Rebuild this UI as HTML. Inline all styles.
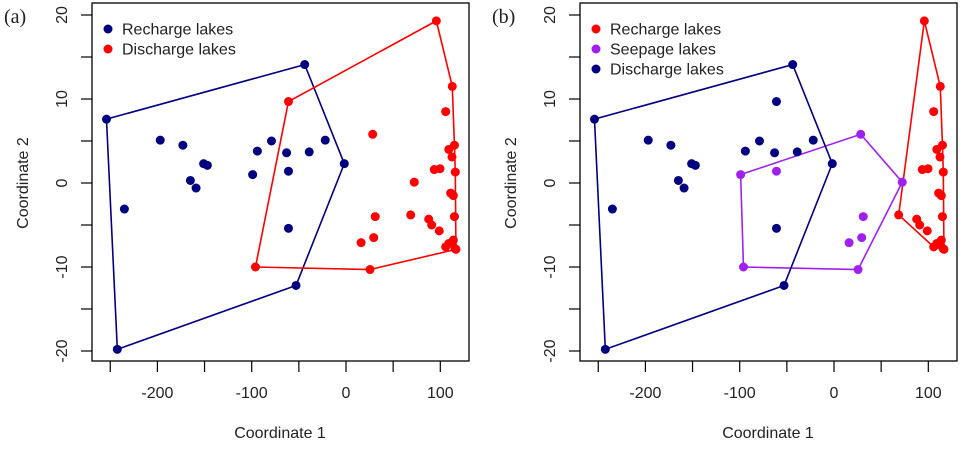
<!DOCTYPE html>
<html><head><meta charset="utf-8"><style>
body{margin:0;background:#fff;}
svg text{font-family:"Liberation Sans",Arial,sans-serif;fill:#222;}
</style></head><body>
<svg id="chart" width="962" height="445" viewBox="0 0 962 445" xmlns="http://www.w3.org/2000/svg"></svg>
<script>
// Panel (a) data
const rechargeAX=[-254,-43.8,-1.8,-53,-242.5,-235,-197,-173,-151,-147,-165,-159,-99,-94,-79,-63,-61,-39,-22,-61];
const rechargeAY=[7.6,14.1,2.3,-12.2,-19.8,-3.1,5.1,4.5,2.3,2.1,0.3,-0.6,1.0,3.8,5.0,3.6,1.4,3.7,5.1,-5.4];
const dischargeAX=[95.8,112.7,105.7,28.3,-61,-96,25.5,115.6,115,109,112.4,93.6,99.7,115.9,72.4,111,113.8,68.6,115,87.7,90.9,98.9,105.7,113.8,116.6,109,31,29.4,16];
const dischargeAY=[19.3,11.5,8.5,5.8,9.7,-10,-10.3,-7.8,4.5,4.0,3.1,1.6,1.7,1.3,0.1,-1.2,-1.5,-3.8,-4.0,-4.3,-5.0,-5.7,-7.6,-6.8,-7.9,-7.2,-4.0,-6.5,-7.1];
// Panel (b) data
const rechargeBX=[112.7,105.7,95.8,115.6,115,109,112.4,93.6,99.7,115.9,111,113.8,68.6,115,87.7,90.9,98.9,105.7,113.8,116.6,109];
const rechargeBY=[11.5,8.5,19.3,-7.8,4.5,4.0,3.1,1.6,1.7,1.3,-1.2,-1.5,-3.8,-4.0,-4.3,-5.0,-5.7,-7.6,-6.8,-7.9,-7.2];
const seepageBX=[-99,-61,-96,25.5,28.3,72.4,31,29.4,16];
const seepageBY=[1.0,1.4,-10,-10.3,5.8,0.1,-4.0,-6.5,-7.1];
const dischargeBX=[-254,-43.8,-1.8,-53,-242.5,-235,-197,-173,-151,-147,-165,-159,-94,-79,-63,-39,-22,-61,-61];
const dischargeBY=[7.6,14.1,2.3,-12.2,-19.8,-3.1,5.1,4.5,2.3,2.1,0.3,-0.6,3.8,5.0,3.6,3.7,5.1,-5.4,9.7];
const xTicks=[-250,-200,-150,-100,-50,0,50,100];
const xTickLabels=["-200","-100","0","100"];
const xTickLabelVals=[-200,-100,0,100];
const yTicks=[20,15,10,5,0,-5,-10,-15,-20];
const yTickLabelVals=[20,10,0,-10,-20];

const NS="http://www.w3.org/2000/svg";
const svg=document.getElementById('chart');
function mk(tag,attrs,parent){const e=document.createElementNS(NS,tag);for(const k in attrs)e.setAttribute(k,attrs[k]);(parent||svg).appendChild(e);return e;}
function hull(xs,ys){
  const p=xs.map((x,i)=>[x,ys[i]]).sort((a,b)=>a[0]-b[0]||a[1]-b[1]);
  const cr=(o,a,b)=>(a[0]-o[0])*(b[1]-o[1])-(a[1]-o[1])*(b[0]-o[0]);
  const lo=[],up=[];
  for(const q of p){while(lo.length>=2&&cr(lo[lo.length-2],lo[lo.length-1],q)<=0)lo.pop();lo.push(q);}
  for(let i=p.length-1;i>=0;i--){const q=p[i];while(up.length>=2&&cr(up[up.length-2],up[up.length-1],q)<=0)up.pop();up.push(q);}
  return lo.slice(0,-1).concat(up.slice(0,-1));
}
function panel(off,label,groups,name){
  const g=mk('g',{});
  
  
  const sx=v=>off+346+v*0.943, sy=v=>183-v*8.4;
  const box=mk('rect',{x:off+92,y:3,width:377,height:358,fill:'none',stroke:'#000','stroke-width':1.3},g);
  
  
  xTicks.forEach(t=>{const l=mk('line',{x1:sx(t),x2:sx(t),y1:361,y2:372,stroke:'#000','stroke-width':1.2},g);
    
    });
  xTickLabelVals.forEach((t,i)=>{const e=mk('text',{x:sx(t),y:398,'text-anchor':'middle','font-size':16},g);e.textContent=xTickLabels[i];
    
    });
  yTicks.forEach(t=>{const l=mk('line',{x1:off+81,x2:off+92,y1:sy(t),y2:sy(t),stroke:'#000','stroke-width':1.2},g);
    
    });
  yTickLabelVals.forEach(t=>{const e=mk('text',{x:off+67,y:sy(t),'text-anchor':'middle','font-size':16,transform:`rotate(-90 ${off+67} ${sy(t)})`},g);e.textContent=String(t);
    
    });
  let e=mk('text',{x:off+280,y:438,'text-anchor':'middle','font-size':16},g);e.textContent='Coordinate 1';
  
  
  e=mk('text',{x:off+28,y:183,'text-anchor':'middle','font-size':16,transform:`rotate(-90 ${off+28} 183)`},g);e.textContent='Coordinate 2';
  
  
  e=mk('text',{x:off+4,y:23,'font-size':20,style:'font-family:"Liberation Serif",serif'},g);e.textContent=label;
  
  
  groups.forEach(gr=>{
    const h=hull(gr.x,gr.y);
    const pl=mk('polygon',{points:h.map(q=>sx(q[0])+','+sy(q[1])).join(' '),fill:'none',stroke:gr.c,'stroke-width':1.6},g);
    
    
    gr.x.forEach((x,i)=>{const c=mk('circle',{cx:sx(x),cy:sy(gr.y[i]),r:4.5,fill:gr.c},g);
      
      });
  });
  groups.forEach((gr,i)=>{
    const y=29+i*20;
    const c=mk('circle',{cx:off+108,cy:y,r:4.5,fill:gr.c},g);
    
    
    const t=mk('text',{x:off+122,y:y+5.5,'font-size':16},g);t.textContent=gr.label;
    
    
  });
}
panel(0,'(a)',[
  {x:rechargeAX,y:rechargeAY,c:'#000080',n:'recharge',label:'Recharge lakes'},
  {x:dischargeAX,y:dischargeAY,c:'#ff0000',n:'discharge',label:'Discharge lakes'}],'panel-a');
panel(488,'(b)',[
  {x:rechargeBX,y:rechargeBY,c:'#ff0000',n:'recharge',label:'Recharge lakes'},
  {x:seepageBX,y:seepageBY,c:'#a020f0',n:'seepage',label:'Seepage lakes'},
  {x:dischargeBX,y:dischargeBY,c:'#000080',n:'discharge',label:'Discharge lakes'}],'panel-b');
</script>
</body></html>
